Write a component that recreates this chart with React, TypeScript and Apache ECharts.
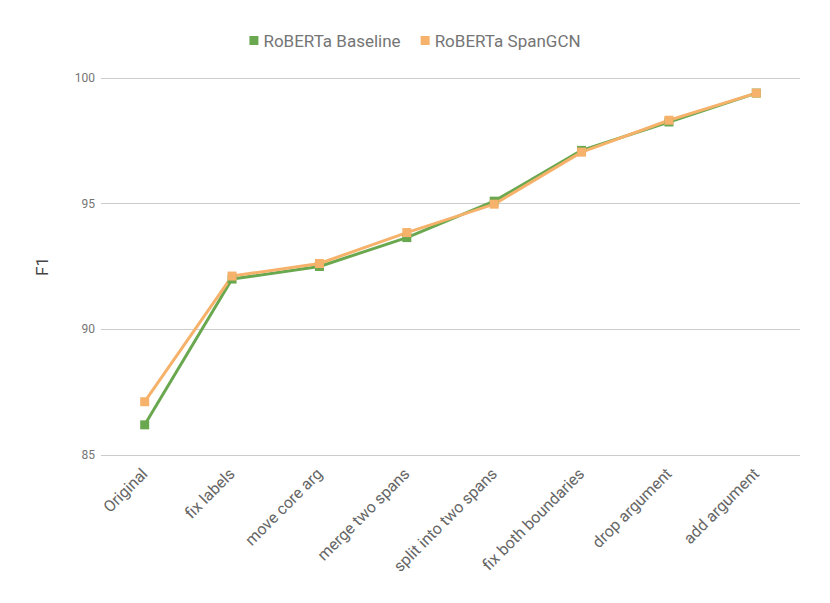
import React, { useEffect, useRef } from "react";
import * as echarts from "echarts";

const categories = [
  "Original",
  "fix labels",
  "move core arg",
  "merge two spans",
  "split into two spans",
  "fix both boundaries",
  "drop argument",
  "add argument",
];
const baseline = [86.2, 92.0, 92.5, 93.65, 95.1, 97.12, 98.25, 99.4];
const spanGCN = [87.12, 92.12, 92.62, 93.85, 94.98, 97.05, 98.32, 99.4];
const yTicks = { min: 85, max: 100, interval: 5 };

export default function App() {
  const ref = useRef<HTMLDivElement>(null);
  useEffect(() => {
    if (!ref.current) return;
    const chart = echarts.init(ref.current, undefined, { renderer: "svg" });
    chart.setOption({
      animation: false,
      textStyle: { fontFamily: "Roboto" },
      legend: {
        top: 27,
        left: "center",
        itemWidth: 9,
        itemHeight: 9,
        itemGap: 20,
        icon: "rect",
        textStyle: { fontSize: 17, color: "#757575", fontFamily: "Roboto" },
        data: ["RoBERTa Baseline", "RoBERTa SpanGCN"],
      },
      grid: { left: 101, right: 30, top: 78, bottom: 148 },
      xAxis: {
        type: "category",
        data: categories,
        boundaryGap: true,
        axisLine: { show: false },
        axisTick: { show: false },
        axisLabel: {
          rotate: 45,
          fontSize: 16,
          color: "#666",
          margin: 16,
          interval: 0,
        },
      },
      yAxis: {
        type: "value",
        min: yTicks.min,
        max: yTicks.max,
        interval: yTicks.interval,
        name: "F1",
        nameLocation: "middle",
        nameGap: 51,
        nameRotate: 90,
        nameTextStyle: { fontSize: 17, color: "#444" },
        axisLine: { show: false },
        axisTick: { show: false },
        axisLabel: { fontSize: 12, color: "#757575", margin: 6 },
        splitLine: { lineStyle: { color: "#ccc", width: 1 } },
      },
      series: [
        {
          name: "RoBERTa Baseline",
          type: "line",
          data: baseline,
          symbol: "rect",
          symbolSize: 9,
          lineStyle: { width: 3, color: "#6aa84f" },
          itemStyle: { color: "#6aa84f" },
        },
        {
          name: "RoBERTa SpanGCN",
          type: "line",
          data: spanGCN,
          symbol: "rect",
          symbolSize: 9,
          lineStyle: { width: 3, color: "#f6b26b" },
          itemStyle: { color: "#f6b26b" },
        },
      ],
    });
    return () => chart.dispose();
  }, []);
  return <div ref={ref} style={{ width: 830, height: 603, position: "absolute", left: 0, top: 0 }} />;
}
